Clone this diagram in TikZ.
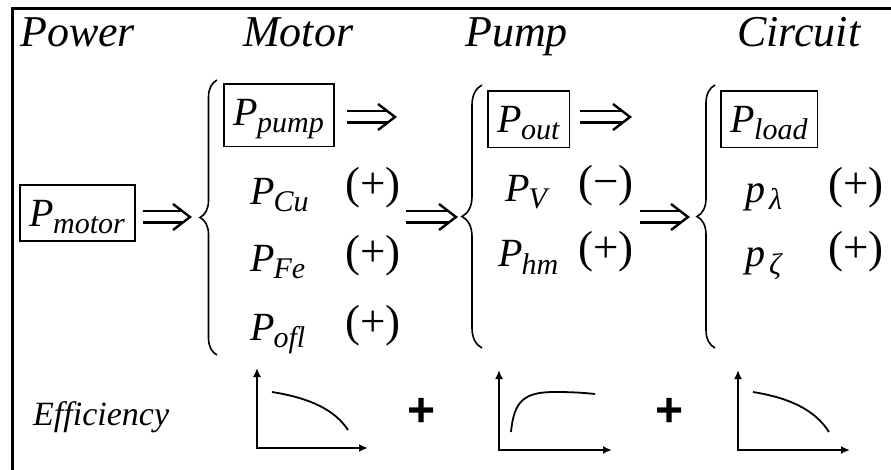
\documentclass[tikz,border=0pt]{standalone}
\usepackage{fontspec}
\setmainfont{Liberation Serif}
\setsansfont{Liberation Sans}
\usepackage{tikz}
\usetikzlibrary{arrows.meta,positioning,decorations.pathreplacing,decorations.markings,calc}
\newcommand{\Pwr}[2]{#1\kern-1pt\raisebox{-7pt}{\fontsize{30}{30}\selectfont #2}}
\tikzset{
  hdtxt/.style={inner sep=0pt,anchor=base west,font=\fontsize{44}{48}\selectfont\itshape},
  pbox/.style={draw,line width=1.6pt,inner xsep=10pt,inner ysep=7pt,text height=35pt,anchor=base west,font=\fontsize{40}{44}\selectfont\itshape},
  pterm/.style={inner sep=0pt,anchor=base west,font=\fontsize{40}{44}\selectfont\itshape},
  sgn/.style={inner sep=0pt,anchor=base west,font=\fontsize{45}{48}\selectfont},
  imp/.style={double,double distance=9pt,line width=2.4pt,shorten >=7pt,
    postaction={decorate,decoration={markings,mark=at position 1 with
      {\draw[line width=2.4pt,shorten >=0pt,shorten <=0pt,line join=miter]
        (-17pt,13pt) .. controls (-9pt,6pt) .. (0pt,0pt)
        .. controls (-9pt,-6pt) .. (-17pt,-13pt);}}}},
  brc/.style={decorate,line width=1.6pt},
  axs/.style={line width=1.8pt,{Latex[length=9pt,width=8pt]}-{Latex[length=9pt,width=8pt]}},
  crv/.style={line width=1.8pt},
  plusn/.style={inner sep=0pt,font=\fontsize{48}{48}\selectfont\sffamily\bfseries},
}
\begin{document}
\begin{tikzpicture}[x=1pt,y=-1pt]
  \useasboundingbox (0,0) rectangle (891,470);
  % frame, only top and left edges
  \draw[line width=3pt] (12.5,470) -- (12.5,9) -- (891,9);
  % column heads
  \node[hdtxt] (hpow) at (20,47)  {Power};
  \node[hdtxt] (hmot) at (243,47) {Motor};
  \node[hdtxt] (hpmp) at (465,47) {Pump};
  \node[hdtxt] (hcir) at (737,47) {Circuit};
  % boxed powers
  \node[pbox] (pmotor) at (19,227)  {\Pwr{P}{motor}};
  \node[pbox] (ppump)  at (223,126) {\Pwr{P}{pump}};
  \node[pbox] (pout)   at (487,133) {\Pwr{P}{out}};
  \node[pbox] (pload)  at (720,133) {\Pwr{P}{load}};
  % loss terms
  \node[pterm] (pcu)   at (250,205) {\Pwr{P}{Cu}};
  \node[pterm] (pfe)   at (250,272) {\Pwr{P}{Fe}};
  \node[pterm] (pofl)  at (250,340) {\Pwr{P}{ofl}};
  \node[pterm] (pv)    at (505,202) {\Pwr{P}{V}};
  \node[pterm] (phm)   at (498,267) {\Pwr{P}{hm}};
  \node[pterm] (plam)  at (745,203) {\Pwr{p}{\,λ}};
  \node[pterm] (pzeta) at (745,267) {\Pwr{p}{\,ζ}};
  \node[sgn] (scu)   at (345,199) {(+)};
  \node[sgn] (sfe)   at (345,267) {(+)};
  \node[sgn] (sofl)  at (345,336) {(+)};
  \node[sgn] (sv)    at (578,197) {(−)};
  \node[sgn] (shm)   at (578,263) {(+)};
  \node[sgn] (slam)  at (828,199) {(+)};
  \node[sgn] (szeta) at (828,263) {(+)};
  % braces
  \draw[brc,decoration={brace,amplitude=17pt}] (217,355) -- (217,80);
  \draw[brc,decoration={brace,amplitude=20pt}] (482,348) -- (482,85);
  \draw[brc,decoration={brace,amplitude=18pt}] (715,348) -- (715,85);
  % implications
  \coordinate (t1) at (190,217);
  \coordinate (t2) at (456,217);
  \coordinate (t3) at (688,217);
  \coordinate (m1) at (406,217);
  \coordinate (m2) at (640,217);
  \coordinate (e1) at (395,117);
  \coordinate (e2) at (630,117);
  \draw[imp,shorten <=7pt] (pmotor.east |- t1) -- (t1);
  \draw[imp] (m1) -- (t2);
  \draw[imp] (m2) -- (t3);
  \draw[imp,shorten <=12pt] (ppump.east |- e1) -- (e1);
  \draw[imp,shorten <=10pt] (pout.east |- e2) -- (e2);
  % efficiency curves
  \node[hdtxt,font=\fontsize{34}{36}\selectfont\itshape] (eff) at (33,425) {Efficiency};
  \draw[axs] (257,368) -- (257,448) -- (368,448);
  \draw[crv] (272,392) .. controls (310,398) and (335,410) .. (348,430);
  \node[plusn] (plus1) at (422,412) {+};
  \draw[axs] (499,370) -- (499,450) -- (612,450);
  \draw[crv] (511,432) .. controls (514,400) and (525,392) .. (555,392)
                       .. controls (575,392) and (585,393) .. (595,394);
  \node[plusn] (plus2) at (670,412) {+};
  \draw[axs] (738,370) -- (738,450) -- (850,450);
  \draw[crv] (753,392) .. controls (790,398) and (815,410) .. (829,432);
\end{tikzpicture}
\end{document}
